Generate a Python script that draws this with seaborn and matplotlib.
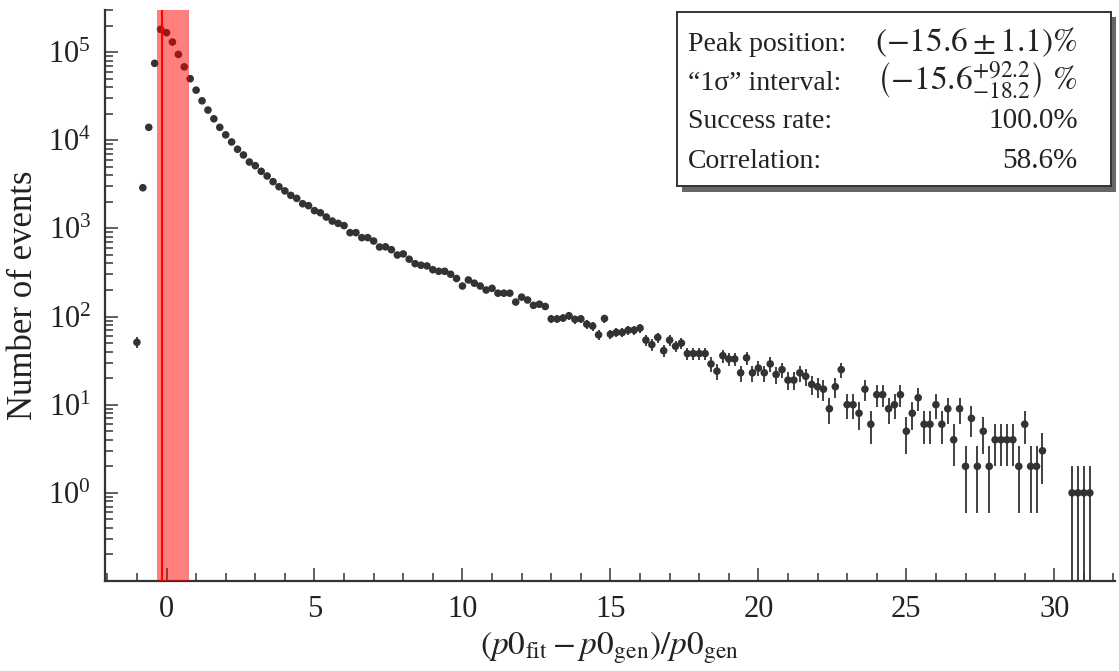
import numpy as np
import pandas as pd
import matplotlib
matplotlib.use("Agg")
import matplotlib.pyplot as plt
import seaborn as sns
from matplotlib.patches import Rectangle
from matplotlib.ticker import MultipleLocator, LogLocator, NullFormatter

sns.set_theme(style="ticks")
plt.rcParams["font.family"] = ["Liberation Serif", "DejaVu Serif"]
plt.rcParams["mathtext.fontset"] = "stix"

# ---- data ----
bin_lo = -1.0
bin_width = 0.2
counts = [
    51, 2890, 14000, 74500, 181000, 166000, 130000, 94000, 68000, 49800,
    37000, 28000, 22000, 17500, 14000, 11500, 9550, 7900, 6800, 5660,
    5140, 4440, 3930, 3390, 2970, 2660, 2370, 2190, 1905, 1810,
    1590, 1505, 1345, 1210, 1140, 1075, 894, 894, 785, 785,
    719, 615, 618, 573, 499, 513, 447, 398, 382, 375,
    340, 326, 326, 302, 270, 222, 260, 239, 222, 200,
    209, 184, 184, 184, 146, 166, 154, 134, 138, 130,
    94, 94, 96, 102, 93, 94, 82, 78, 62, 95,
    63, 66, 66, 70, 70, 74, 54, 48, 58, 41,
    54, 46, 50, 38, 38, 38, 38, 29, 24, 36,
    33, 33, 23, 34, 23, 26, 23, 29, 22, 25,
    19, 19, 23, 21, 17, 16, 15, 9, 16, 25,
    10, 10, 8, 15, 6, 13, 13, 9, 10, 13,
    5, 8, 12, 6, 6, 10, 6, 9, 4, 9,
    2, 7, 2, 5, 2, 4, 4, 4, 4, 2,
    6, 2, 2, 3, 0, 0, 0, 0, 1, 1,
    1, 1,
]
peak_pos = -0.156
interval_lo = -0.338
interval_hi = 0.766
x_ticks = [0, 5, 10, 15, 20, 25, 30]
y_ticks = [1, 10, 100, 1000, 10000, 100000]
box_labels = ["Peak position:", "\u201c1\u03c3\u201d interval:", "Success rate:", "Correlation:"]
box_values = [r"$(-15.6\pm 1.1)\%$",
              r"$\left(-15.6^{+92.2}_{-18.2}\right)\ \%$",
              "100.0%", "58.6%"]
box_value_sizes = [24, 24, 21, 21]

df = pd.DataFrame({"x": bin_lo + bin_width * np.arange(len(counts)), "n": counts})
df = df[df["n"] > 0].reset_index(drop=True)
err_hi = np.sqrt(df["n"].to_numpy(dtype=float))
err_lo = np.minimum(err_hi, df["n"].to_numpy(dtype=float) * 0.999)

dark = "#333333"
fig = plt.figure(figsize=(11.19, 6.71), dpi=100)
ax = fig.add_axes([0.0938, 0.1341, 0.9026, 0.8510])
ax.set_yscale("log")

ax.errorbar(df["x"], df["n"], yerr=[err_lo, err_hi], fmt="none",
            ecolor=dark, elinewidth=1.3, capsize=0, zorder=2)
sns.scatterplot(data=df, x="x", y="n", ax=ax, color=dark, s=30,
                edgecolor="none", linewidth=0, zorder=3, legend=False)
ax.axvspan(interval_lo, interval_hi, color="red", alpha=0.5, lw=0, zorder=4)
ax.axvline(peak_pos, color="red", lw=1.5, zorder=5)

ax.set_xlim(-2.08, 32.05)
ax.set_ylim(0.1, 3.0e5)
ax.set_xticks(x_ticks)
ax.xaxis.set_minor_locator(MultipleLocator(1))
ax.set_yticks(y_ticks)
ax.yaxis.set_minor_locator(LogLocator(base=10, subs=np.arange(2, 10)))
ax.yaxis.set_minor_formatter(NullFormatter())

ax.tick_params(which="major", direction="in", length=9.5, width=1.1,
               color=dark, labelsize=22, labelcolor="#222222", pad=10)
ax.tick_params(which="minor", direction="in", length=5.5, width=1.1, color=dark)
for s in ["top", "right"]:
    ax.spines[s].set_visible(False)
for s in ["left", "bottom"]:
    ax.spines[s].set_color(dark)
    ax.spines[s].set_linewidth(1.6)

ax.set_xlabel(r"$(p0_{\mathrm{fit}}-p0_{\mathrm{gen}})/p0_{\mathrm{gen}}$",
              fontsize=24, color="#222222", labelpad=4)
ax.set_ylabel("Number of events", fontsize=25, color="#222222", labelpad=6)

# ---- info box ----
bx0, bx1, by0, by1 = 0.566, 0.996, 0.692, 0.997
dx, dy = 0.005, 0.010
ax.add_patch(Rectangle((bx0 + dx, by0 - dy), bx1 - bx0, by1 - by0,
                       transform=ax.transAxes, facecolor="#666666",
                       edgecolor="none", zorder=8, clip_on=False))
ax.add_patch(Rectangle((bx0, by0), bx1 - bx0, by1 - by0,
                       transform=ax.transAxes, facecolor="white",
                       edgecolor=dark, lw=1.4, zorder=9, clip_on=False))
rows_y = [0.928, 0.860, 0.793, 0.723]
for lab, val, vs, yy in zip(box_labels, box_values, box_value_sizes, rows_y):
    ax.text(0.577, yy, lab, transform=ax.transAxes, fontsize=20,
            color="#222222", va="baseline", ha="left", zorder=10)
    ax.text(0.963, yy, val, transform=ax.transAxes, fontsize=vs,
            color="#222222", va="baseline", ha="right", zorder=10)

fig.savefig("out.png", dpi=100)
